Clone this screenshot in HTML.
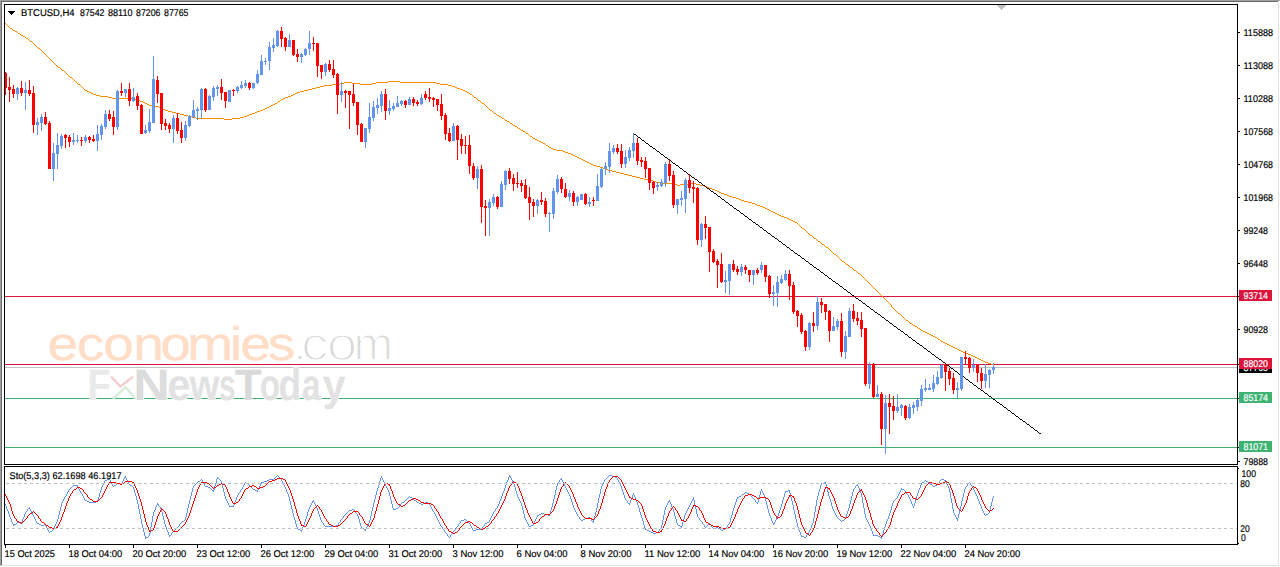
<!DOCTYPE html>
<html lang="en"><head><meta charset="utf-8"><title>BTCUSD H4</title>
<style>html,body{margin:0;padding:0;background:#fff;}body{width:1280px;height:567px;overflow:hidden;position:relative;font-family:"Liberation Sans",sans-serif;}svg,svg text{font-family:"Liberation Sans",sans-serif;}</style></head>
<body>
<svg width="1280" height="567" viewBox="0 0 1280 567" style="position:absolute;left:0;top:0" text-rendering="geometricPrecision">
<rect x="0" y="0" width="1280" height="567" fill="#fff"/>
<g shape-rendering="crispEdges">
<rect x="0" y="0" width="1280" height="1" fill="#a0a0a0"/><rect x="0" y="0" width="1" height="566" fill="#a0a0a0"/>
<rect x="1" y="1" width="1278" height="1" fill="#696969"/><rect x="1" y="1" width="1" height="564" fill="#696969"/>
<rect x="1278" y="1" width="1" height="565" fill="#e3e3e3"/><rect x="1" y="565" width="1278" height="1" fill="#e3e3e3"/>
<rect x="5" y="296" width="1232" height="1" fill="#DC143C"/>
<rect x="5" y="364" width="1232" height="1" fill="#DC143C"/>
<rect x="5" y="367" width="1232" height="1" fill="#C0C0C0"/>
<rect x="5" y="398" width="1232" height="1" fill="#3CB371"/>
<rect x="5" y="447" width="1232" height="1" fill="#3CB371"/>
</g>
<path d="M96 95.5h4M291 95.5h2M192 117.5h4M240 117.5h4M760 206.5h3M108 97.5h4M285 97.5h3M474 97.5h2M660 183.5h15M688 183.5h8M773 212.5h2M196 118.5h28M232 118.5h8M502 118.5h2M935 337.5h2M176 113.5h4M252 113.5h3M494 113.5h2M89 92.5h2M297 92.5h3M467 92.5h2M320 86.5h4M452 86.5h3M596 166.5h4M87 91.5h2M300 91.5h4M465 91.5h2M78 84.5h2M332 84.5h8M360 84.5h12M440 84.5h8M787 218.5h2M388 81.5h12M600 167.5h3M858 273.5h2M112 98.5h20M283 98.5h2M521 130.5h2M765 208.5h2M344 82.5h8M376 82.5h12M400 82.5h36M729 196.5h3M85 90.5h2M304 90.5h4M463 90.5h2M145 103.5h2M275 103.5h2M482 103.5h2M163 109.5h2M263 109.5h2M644 179.5h7M149 105.5h3M271 105.5h2M628 175.5h4M523 131.5h2M168 111.5h4M257 111.5h3M147 104.5h2M273 104.5h2M791 220.5h2M70 77.5h2M324 85.5h8M448 85.5h4M340 83.5h4M352 83.5h8M372 83.5h4M436 83.5h4M100 96.5h8M288 96.5h3M184 115.5h4M247 115.5h2M497 115.5h2M152 106.5h7M269 106.5h2M632 176.5h4M143 102.5h2M165 110.5h3M260 110.5h3M490 110.5h2M818 241.5h2M224 119.5h8M605 169.5h3M132 99.5h4M281 99.5h2M553 149.5h3M842 261.5h2M624 174.5h4M136 100.5h4M478 100.5h2M854 270.5h2M913 325.5h2M58 67.5h2M556 150.5h7M140 101.5h3M278 101.5h2M172 112.5h4M255 112.5h2M736 198.5h3M549 147.5h2M802 228.5h2M93 94.5h3M293 94.5h2M470 94.5h2M675 184.5h2M680 184.5h8M696 184.5h4M161 108.5h2M265 108.5h2M608 170.5h4M515 126.5h2M651 180.5h2M741 200.5h3M546 145.5h2M308 89.5h4M460 89.5h3M898 313.5h2M961 351.5h2M38 48.5h2M732 197.5h4M612 171.5h4M953 347.5h2M316 87.5h4M455 87.5h2M965 353.5h3M636 177.5h4M985 362.5h3M180 114.5h4M249 114.5h3M677 185.5h3M700 185.5h4M21 35.5h2M988 363.5h3M979 359.5h2M704 186.5h3M957 349.5h2M541 142.5h2M949 345.5h2M850 267.5h2M941 341.5h2M23 36.5h2M991 364.5h2M656 182.5h4M748 202.5h4M943 342.5h2M983 361.5h2M975 357.5h2M620 173.5h4M537 140.5h2M945 343.5h2M530 136.5h2M977 358.5h2M938 339.5h2M968 354.5h3M715 190.5h2M593 165.5h3M971 355.5h2M653 181.5h3M188 116.5h4M244 116.5h3M499 116.5h2M533 138.5h2M616 172.5h4M709 188.5h3M826 247.5h2M589 163.5h2M507 121.5h2M581 159.5h2M312 88.5h4M457 88.5h3M91 93.5h2M295 93.5h2M583 160.5h2M15 31.5h2M575 156.5h2M159 107.5h2M267 107.5h2M721 193.5h3M752 203.5h3M781 216.5h3M834 254.5h2M585 161.5h2M577 157.5h2M30 41.5h2M568 153.5h3M640 178.5h4M775 213.5h2M724 194.5h3M767 209.5h2M929 334.5h2M579 158.5h2M571 154.5h2M717 191.5h2M931 335.5h2M923 331.5h2M13 30.5h2M777 214.5h2M563 151.5h2M769 210.5h2M793 221.5h2M573 155.5h2M526 133.5h2M771 211.5h2M763 207.5h2M925 332.5h2M933 336.5h2M918 328.5h2M565 152.5h3M795 222.5h2M62 70.5h2M712 189.5h3M755 204.5h2M927 333.5h2M789 219.5h2M757 205.5h3M921 330.5h2M822 244.5h2M784 217.5h3M551 148.5h2M603 168.5h2M26 38.5h2M518 128.5h2M744 201.5h4M513 125.5h2M739 199.5h2M963 352.5h2M814 238.5h2M915 326.5h2M959 350.5h2M910 323.5h2M18 33.5h2M955 348.5h2M539 141.5h2M947 344.5h2M981 360.5h2M973 356.5h2M719 192.5h2M543 143.5h2M951 346.5h2M535 139.5h2M510 123.5h2M810 235.5h2M707 187.5h2M587 162.5h2M505 120.5h2M906 320.5h2M779 215.5h2M591 164.5h2M846 264.5h2M10 28.5h2M727 195.5h2M832.5 252v1M493.5 112v1M901.5 315v1M878.5 292v1M532.5 137v1M912.5 324v1M873.5 287v1M57.5 66v1M808.5 233v1M75.5 81v1M68.5 75v1M520.5 129v1M869.5 283v1M879.5 293v1M36.5 46v1M53.5 62v1M64.5 71v1M875.5 289v1M476.5 98v1M902.5 316v1M487.5 107v1M895.5 310v1M77.5 83v1M65.5 72v1M816.5 239v1M509.5 122v1M891.5 305v2M809.5 234v1M845.5 263v1M830.5 250v1M484.5 104v1M876.5 290v1M886.5 300v1M280.5 100v1M12.5 29v1M5.5 23v1M806.5 231v1M799.5 225v1M66.5 73v1M545.5 144v1M817.5 240v1M882.5 296v1M877.5 291v1M917.5 327v1M853.5 269v1M897.5 312v1M856.5 271v1M525.5 132v1M824.5 245v1M485.5 105v1M893.5 308v1M486.5 106v1M825.5 246v1M800.5 226v1M883.5 297v1M836.5 255v1M940.5 340v1M28.5 39v1M473.5 96v1M801.5 227v1M884.5 298v1M29.5 40v1M69.5 76v1M797.5 223v1M880.5 294v1M80.5 85v1M40.5 49v1M17.5 32v1M488.5 108v1M81.5 86v1M481.5 102v1M896.5 311v1M885.5 299v1M489.5 109v1M798.5 224v1M881.5 295v1M908.5 321v1M852.5 268v1M993.5 365v1M496.5 114v1M887.5 301v1M47.5 56v1M82.5 87v1M6.5 24v1M67.5 74v1M43.5 52v1M60.5 68v1M472.5 95v1M860.5 274v1M909.5 322v1M937.5 338v1M861.5 275v1M894.5 309v1M888.5 302v1M841.5 260v1M7.5 25v1M277.5 102v1M844.5 262v1M512.5 124v1M61.5 69v1M44.5 53v1M812.5 236v1M837.5 256v1M889.5 303v1M866.5 280v1M8.5 26v1M45.5 54v1M862.5 276v1M813.5 237v1M480.5 101v1M867.5 281v1M41.5 50v1M501.5 117v1M51.5 60v1M548.5 146v1M820.5 242v1M863.5 277v1M920.5 329v1M838.5 257v1M890.5 304v1M900.5 314v1M9.5 27v1M528.5 134v1M839.5 258v1M56.5 65v1M807.5 232v1M42.5 51v1M35.5 45v1M529.5 135v1M52.5 61v1M469.5 93v1M821.5 243v1M864.5 278v1M857.5 272v1M874.5 288v1M48.5 57v1M517.5 127v1M83.5 88v1M76.5 82v1M804.5 229v1M828.5 248v1M870.5 284v1M865.5 279v1M840.5 259v1M833.5 253v1M32.5 42v1M72.5 78v1M84.5 89v1M25.5 37v1M477.5 99v1M829.5 249v1M903.5 317v1M20.5 34v1M49.5 58v1M37.5 47v1M54.5 63v1M871.5 285v1M805.5 230v1M848.5 265v1M55.5 64v1M849.5 266v1M50.5 59v1M33.5 43v1M73.5 79v1M504.5 119v1M872.5 286v1M904.5 318v1M46.5 55v1M892.5 307v1M34.5 44v1M74.5 80v1M868.5 282v1M492.5 111v1M831.5 251v1M905.5 319v1" fill="none" stroke="#FF8C00" stroke-width="1" shape-rendering="crispEdges"/>
<path d="M806 261.5h2M798 255.5h2M913 340.5h2M939 359.5h2M787 247.5h2M894 326.5h2M920 345.5h2M871 309.5h2M909 337.5h2M634 134.5h2M936 357.5h2M730 205.5h2M653 148.5h2M905 334.5h2M943 362.5h2M917 343.5h2M711 191.5h2M737 210.5h2M886 320.5h2M924 348.5h2M718 196.5h2M1039 433.5h2M638 137.5h2M951 368.5h2M1020 419.5h2M745 216.5h2M783 244.5h2M760 227.5h2M722 199.5h2M932 354.5h2M734 208.5h2M1035 430.5h2M1016 416.5h2M741 213.5h2M1023 421.5h2M768 233.5h2M875 312.5h2M901 331.5h2M775 238.5h2M749 219.5h2M890 323.5h2M856 298.5h2M882 317.5h2M833 281.5h2M898 329.5h2M692 177.5h2M1031 427.5h2M867 306.5h2M673 163.5h2M1012 413.5h2M848 292.5h2M989 396.5h2M1027 424.5h2M726 202.5h2M1008 410.5h2M707 188.5h2M684 171.5h2M997 402.5h2M714 193.5h2M1004 407.5h2M703 185.5h2M978 388.5h2M756 224.5h2M863 303.5h2M699 182.5h2M852 295.5h2M844 289.5h2M859 300.5h2M878 314.5h2M993 399.5h2M829 278.5h2M1000 404.5h2M974 385.5h2M836 283.5h2M810 264.5h2M688 174.5h2M669 160.5h2M695 179.5h2M985 393.5h2M959 374.5h2M966 379.5h2M680 168.5h2M825 275.5h2M661 154.5h2M814 267.5h2M840 286.5h2M795 253.5h2M981 390.5h2M955 371.5h2M817 269.5h2M791 250.5h2M962 376.5h2M650 146.5h2M676 165.5h2M657 151.5h2M970 382.5h2M947 365.5h2M646 143.5h2M928 351.5h2M665 157.5h2M642 140.5h2M802 258.5h2M821 272.5h2M772 236.5h2M779 241.5h2M753 222.5h2M764 230.5h2M710.5 190v1M888.5 321v1M941.5 360v1M839.5 285v1M813.5 266v1M865.5 304v1M1030.5 426v1M819.5 270v1M793.5 251v1M655.5 149v1M846.5 290v1M820.5 271v1M961.5 375v1M935.5 356v1M800.5 256v1M774.5 237v1M698.5 181v1M672.5 162v1M636.5 135v1M751.5 220v1M725.5 201v1M777.5 239v1M1038.5 432v1M679.5 167v1M705.5 186v1M880.5 315v1M656.5 150v1M752.5 221v1M969.5 381v1M686.5 172v1M999.5 403v1M1025.5 422v1M861.5 301v1M733.5 207v1M785.5 245v1M759.5 226v1M976.5 386v1M950.5 367v1M1002.5 405v1M930.5 352v1M904.5 333v1M766.5 231v1M740.5 212v1M664.5 156v1M983.5 391v1M957.5 372v1M977.5 387v1M881.5 316v1M855.5 297v1M694.5 178v1M720.5 197v1M809.5 263v1M645.5 142v1M697.5 180v1M671.5 161v1M958.5 373v1M1010.5 411v1M984.5 392v1M862.5 302v1M678.5 166v1M991.5 397v1M767.5 232v1M915.5 341v1M889.5 322v1M945.5 363v1M1034.5 429v1M896.5 327v1M870.5 308v1M794.5 252v1M922.5 346v1M1011.5 412v1M824.5 274v1M850.5 293v1M903.5 332v1M827.5 276v1M801.5 257v1M992.5 398v1M640.5 138v1M1018.5 417v1M729.5 204v1M781.5 242v1M755.5 223v1M808.5 262v1M782.5 243v1M706.5 187v1M923.5 347v1M897.5 328v1M1019.5 418v1M762.5 228v1M736.5 209v1M660.5 153v1M835.5 282v1M713.5 192v1M687.5 173v1M1026.5 423v1M739.5 211v1M667.5 158v1M641.5 139v1M1006.5 408v1M790.5 249v1M842.5 287v1M816.5 268v1M1033.5 428v1M931.5 353v1M648.5 144v1M987.5 394v1M911.5 338v1M885.5 319v1M747.5 217v1M721.5 198v1M938.5 358v1M912.5 339v1M964.5 377v1M701.5 183v1M892.5 324v1M866.5 305v1M728.5 203v1M652.5 147v1M965.5 378v1M843.5 288v1M869.5 307v1M682.5 169v1M659.5 152v1M633.5 133v1M972.5 383v1M946.5 364v1M748.5 218v1M953.5 369v1M877.5 313v1M851.5 294v1M907.5 335v1M908.5 336v1M858.5 299v1M832.5 280v1M884.5 318v1M973.5 384v1M812.5 265v1M838.5 284v1M786.5 246v1M789.5 248v1M763.5 229v1M954.5 370v1M980.5 389v1M691.5 176v1M743.5 214v1M717.5 195v1M770.5 234v1M744.5 215v1M668.5 159v1M1007.5 409v1M724.5 200v1M1037.5 431v1M771.5 235v1M823.5 273v1M797.5 254v1M675.5 164v1M649.5 145v1M988.5 395v1M1014.5 414v1M916.5 342v1M968.5 380v1M942.5 361v1M804.5 259v1M778.5 240v1M702.5 184v1M995.5 400v1M919.5 344v1M893.5 325v1M1015.5 415v1M758.5 225v1M732.5 206v1M949.5 366v1M873.5 310v1M847.5 291v1M709.5 189v1M683.5 170v1M900.5 330v1M926.5 349v1M874.5 311v1M1022.5 420v1M996.5 401v1M637.5 136v1M663.5 155v1M854.5 296v1M828.5 277v1M690.5 175v1M716.5 194v1M1003.5 406v1M1029.5 425v1M927.5 350v1M805.5 260v1M831.5 279v1M644.5 141v1M934.5 355v1" fill="none" stroke="#000" stroke-width="1" shape-rendering="crispEdges"/>
<g shape-rendering="crispEdges">
<rect x="5" y="72" width="1" height="23" fill="#FF0000"/><rect x="4" y="73" width="3" height="15" fill="#FF0000"/>
<rect x="9" y="77" width="1" height="25" fill="#FF0000"/><rect x="8" y="87" width="3" height="3" fill="#FF0000"/>
<rect x="13" y="85" width="1" height="13" fill="#FF0000"/><rect x="12" y="89" width="3" height="5" fill="#FF0000"/>
<rect x="17" y="87" width="1" height="13" fill="#6495ED"/><rect x="16" y="88" width="3" height="6" fill="#6495ED"/>
<rect x="21" y="81" width="1" height="15" fill="#FF0000"/><rect x="20" y="88" width="3" height="5" fill="#FF0000"/>
<rect x="25" y="82" width="1" height="28" fill="#6495ED"/><rect x="24" y="90" width="3" height="3" fill="#6495ED"/>
<rect x="29" y="80" width="1" height="16" fill="#FF0000"/><rect x="28" y="90" width="3" height="4" fill="#FF0000"/>
<rect x="33" y="86" width="1" height="47" fill="#FF0000"/><rect x="32" y="93" width="3" height="32" fill="#FF0000"/>
<rect x="37" y="118" width="1" height="17" fill="#6495ED"/><rect x="36" y="122" width="3" height="3" fill="#6495ED"/>
<rect x="41" y="114" width="1" height="17" fill="#6495ED"/><rect x="40" y="117" width="3" height="6" fill="#6495ED"/>
<rect x="45" y="112" width="1" height="13" fill="#FF0000"/><rect x="44" y="117" width="3" height="7" fill="#FF0000"/>
<rect x="49" y="121" width="1" height="48" fill="#FF0000"/><rect x="48" y="123" width="3" height="46" fill="#FF0000"/>
<rect x="53" y="143" width="1" height="38" fill="#6495ED"/><rect x="52" y="153" width="3" height="16" fill="#6495ED"/>
<rect x="57" y="133" width="1" height="36" fill="#6495ED"/><rect x="56" y="145" width="3" height="9" fill="#6495ED"/>
<rect x="61" y="134" width="1" height="15" fill="#6495ED"/><rect x="60" y="136" width="3" height="10" fill="#6495ED"/>
<rect x="65" y="134" width="1" height="14" fill="#FF0000"/><rect x="64" y="135" width="3" height="3" fill="#FF0000"/>
<rect x="69" y="135" width="1" height="12" fill="#FF0000"/><rect x="68" y="137" width="3" height="5" fill="#FF0000"/>
<rect x="73" y="133" width="1" height="12" fill="#6495ED"/><rect x="72" y="140" width="3" height="2" fill="#6495ED"/>
<rect x="77" y="135" width="1" height="8" fill="#6495ED"/><rect x="76" y="140" width="3" height="1" fill="#6495ED"/>
<rect x="81" y="137" width="1" height="9" fill="#FF0000"/><rect x="80" y="140" width="3" height="1" fill="#FF0000"/>
<rect x="85" y="135" width="1" height="8" fill="#6495ED"/><rect x="84" y="137" width="3" height="4" fill="#6495ED"/>
<rect x="89" y="136" width="1" height="7" fill="#FF0000"/><rect x="88" y="137" width="3" height="3" fill="#FF0000"/>
<rect x="93" y="135" width="1" height="7" fill="#FF0000"/><rect x="92" y="139" width="3" height="2" fill="#FF0000"/>
<rect x="97" y="125" width="1" height="26" fill="#6495ED"/><rect x="96" y="134" width="3" height="7" fill="#6495ED"/>
<rect x="101" y="124" width="1" height="16" fill="#6495ED"/><rect x="100" y="126" width="3" height="9" fill="#6495ED"/>
<rect x="105" y="110" width="1" height="19" fill="#6495ED"/><rect x="104" y="114" width="3" height="13" fill="#6495ED"/>
<rect x="109" y="110" width="1" height="11" fill="#FF0000"/><rect x="108" y="114" width="3" height="5" fill="#FF0000"/>
<rect x="113" y="111" width="1" height="24" fill="#FF0000"/><rect x="112" y="117" width="3" height="10" fill="#FF0000"/>
<rect x="117" y="90" width="1" height="40" fill="#6495ED"/><rect x="116" y="91" width="3" height="36" fill="#6495ED"/>
<rect x="121" y="83" width="1" height="13" fill="#FF0000"/><rect x="120" y="91" width="3" height="2" fill="#FF0000"/>
<rect x="125" y="89" width="1" height="8" fill="#6495ED"/><rect x="124" y="89" width="3" height="4" fill="#6495ED"/>
<rect x="129" y="83" width="1" height="23" fill="#FF0000"/><rect x="128" y="89" width="3" height="12" fill="#FF0000"/>
<rect x="133" y="88" width="1" height="14" fill="#6495ED"/><rect x="132" y="97" width="3" height="4" fill="#6495ED"/>
<rect x="137" y="93" width="1" height="17" fill="#FF0000"/><rect x="136" y="96" width="3" height="10" fill="#FF0000"/>
<rect x="141" y="104" width="1" height="30" fill="#FF0000"/><rect x="140" y="105" width="3" height="29" fill="#FF0000"/>
<rect x="145" y="125" width="1" height="9" fill="#6495ED"/><rect x="144" y="130" width="3" height="3" fill="#6495ED"/>
<rect x="149" y="109" width="1" height="24" fill="#6495ED"/><rect x="148" y="122" width="3" height="9" fill="#6495ED"/>
<rect x="153" y="56" width="1" height="67" fill="#6495ED"/><rect x="152" y="79" width="3" height="44" fill="#6495ED"/>
<rect x="157" y="76" width="1" height="27" fill="#FF0000"/><rect x="156" y="80" width="3" height="14" fill="#FF0000"/>
<rect x="161" y="93" width="1" height="37" fill="#FF0000"/><rect x="160" y="93" width="3" height="31" fill="#FF0000"/>
<rect x="165" y="119" width="1" height="11" fill="#FF0000"/><rect x="164" y="123" width="3" height="3" fill="#FF0000"/>
<rect x="169" y="123" width="1" height="10" fill="#FF0000"/><rect x="168" y="125" width="3" height="4" fill="#FF0000"/>
<rect x="173" y="115" width="1" height="28" fill="#6495ED"/><rect x="172" y="118" width="3" height="11" fill="#6495ED"/>
<rect x="177" y="113" width="1" height="21" fill="#FF0000"/><rect x="176" y="118" width="3" height="13" fill="#FF0000"/>
<rect x="181" y="122" width="1" height="21" fill="#FF0000"/><rect x="180" y="130" width="3" height="8" fill="#FF0000"/>
<rect x="185" y="121" width="1" height="20" fill="#6495ED"/><rect x="184" y="125" width="3" height="13" fill="#6495ED"/>
<rect x="189" y="115" width="1" height="12" fill="#6495ED"/><rect x="188" y="116" width="3" height="10" fill="#6495ED"/>
<rect x="193" y="100" width="1" height="18" fill="#6495ED"/><rect x="192" y="110" width="3" height="7" fill="#6495ED"/>
<rect x="197" y="107" width="1" height="13" fill="#6495ED"/><rect x="196" y="109" width="3" height="2" fill="#6495ED"/>
<rect x="201" y="88" width="1" height="31" fill="#6495ED"/><rect x="200" y="89" width="3" height="21" fill="#6495ED"/>
<rect x="205" y="88" width="1" height="24" fill="#FF0000"/><rect x="204" y="89" width="3" height="21" fill="#FF0000"/>
<rect x="209" y="95" width="1" height="15" fill="#6495ED"/><rect x="208" y="96" width="3" height="14" fill="#6495ED"/>
<rect x="213" y="86" width="1" height="15" fill="#6495ED"/><rect x="212" y="88" width="3" height="9" fill="#6495ED"/>
<rect x="217" y="85" width="1" height="11" fill="#6495ED"/><rect x="216" y="87" width="3" height="2" fill="#6495ED"/>
<rect x="221" y="79" width="1" height="21" fill="#FF0000"/><rect x="220" y="87" width="3" height="6" fill="#FF0000"/>
<rect x="225" y="92" width="1" height="16" fill="#FF0000"/><rect x="224" y="92" width="3" height="9" fill="#FF0000"/>
<rect x="229" y="90" width="1" height="12" fill="#6495ED"/><rect x="228" y="90" width="3" height="12" fill="#6495ED"/>
<rect x="233" y="89" width="1" height="7" fill="#FF0000"/><rect x="232" y="90" width="3" height="1" fill="#FF0000"/>
<rect x="237" y="86" width="1" height="7" fill="#6495ED"/><rect x="236" y="87" width="3" height="4" fill="#6495ED"/>
<rect x="241" y="81" width="1" height="8" fill="#6495ED"/><rect x="240" y="85" width="3" height="3" fill="#6495ED"/>
<rect x="245" y="80" width="1" height="8" fill="#6495ED"/><rect x="244" y="83" width="3" height="3" fill="#6495ED"/>
<rect x="249" y="82" width="1" height="8" fill="#FF0000"/><rect x="248" y="83" width="3" height="5" fill="#FF0000"/>
<rect x="253" y="83" width="1" height="6" fill="#6495ED"/><rect x="252" y="83" width="3" height="5" fill="#6495ED"/>
<rect x="257" y="70" width="1" height="14" fill="#6495ED"/><rect x="256" y="74" width="3" height="9" fill="#6495ED"/>
<rect x="261" y="55" width="1" height="20" fill="#6495ED"/><rect x="260" y="61" width="3" height="14" fill="#6495ED"/>
<rect x="265" y="58" width="1" height="7" fill="#6495ED"/><rect x="264" y="61" width="3" height="1" fill="#6495ED"/>
<rect x="269" y="42" width="1" height="28" fill="#6495ED"/><rect x="268" y="47" width="3" height="14" fill="#6495ED"/>
<rect x="273" y="38" width="1" height="14" fill="#6495ED"/><rect x="272" y="45" width="3" height="3" fill="#6495ED"/>
<rect x="277" y="30" width="1" height="17" fill="#6495ED"/><rect x="276" y="31" width="3" height="15" fill="#6495ED"/>
<rect x="281" y="27" width="1" height="20" fill="#FF0000"/><rect x="280" y="31" width="3" height="8" fill="#FF0000"/>
<rect x="285" y="37" width="1" height="14" fill="#FF0000"/><rect x="284" y="38" width="3" height="9" fill="#FF0000"/>
<rect x="289" y="34" width="1" height="13" fill="#6495ED"/><rect x="288" y="40" width="3" height="7" fill="#6495ED"/>
<rect x="293" y="40" width="1" height="16" fill="#FF0000"/><rect x="292" y="40" width="3" height="15" fill="#FF0000"/>
<rect x="297" y="49" width="1" height="13" fill="#FF0000"/><rect x="296" y="54" width="3" height="3" fill="#FF0000"/>
<rect x="301" y="53" width="1" height="10" fill="#6495ED"/><rect x="300" y="54" width="3" height="3" fill="#6495ED"/>
<rect x="305" y="48" width="1" height="8" fill="#6495ED"/><rect x="304" y="49" width="3" height="6" fill="#6495ED"/>
<rect x="309" y="31" width="1" height="24" fill="#6495ED"/><rect x="308" y="43" width="3" height="6" fill="#6495ED"/>
<rect x="313" y="37" width="1" height="14" fill="#FF0000"/><rect x="312" y="43" width="3" height="1" fill="#FF0000"/>
<rect x="317" y="43" width="1" height="34" fill="#FF0000"/><rect x="316" y="43" width="3" height="23" fill="#FF0000"/>
<rect x="321" y="65" width="1" height="14" fill="#FF0000"/><rect x="320" y="65" width="3" height="7" fill="#FF0000"/>
<rect x="325" y="63" width="1" height="13" fill="#6495ED"/><rect x="324" y="64" width="3" height="8" fill="#6495ED"/>
<rect x="329" y="60" width="1" height="12" fill="#FF0000"/><rect x="328" y="64" width="3" height="6" fill="#FF0000"/>
<rect x="333" y="60" width="1" height="18" fill="#FF0000"/><rect x="332" y="69" width="3" height="6" fill="#FF0000"/>
<rect x="337" y="73" width="1" height="41" fill="#FF0000"/><rect x="336" y="74" width="3" height="21" fill="#FF0000"/>
<rect x="341" y="82" width="1" height="20" fill="#6495ED"/><rect x="340" y="91" width="3" height="4" fill="#6495ED"/>
<rect x="345" y="90" width="1" height="18" fill="#FF0000"/><rect x="344" y="91" width="3" height="2" fill="#FF0000"/>
<rect x="349" y="91" width="1" height="38" fill="#FF0000"/><rect x="348" y="91" width="3" height="4" fill="#FF0000"/>
<rect x="353" y="84" width="1" height="22" fill="#FF0000"/><rect x="352" y="94" width="3" height="9" fill="#FF0000"/>
<rect x="357" y="102" width="1" height="33" fill="#FF0000"/><rect x="356" y="102" width="3" height="23" fill="#FF0000"/>
<rect x="361" y="123" width="1" height="19" fill="#FF0000"/><rect x="360" y="124" width="3" height="18" fill="#FF0000"/>
<rect x="365" y="128" width="1" height="20" fill="#6495ED"/><rect x="364" y="128" width="3" height="14" fill="#6495ED"/>
<rect x="369" y="103" width="1" height="30" fill="#6495ED"/><rect x="368" y="117" width="3" height="12" fill="#6495ED"/>
<rect x="373" y="101" width="1" height="20" fill="#6495ED"/><rect x="372" y="107" width="3" height="11" fill="#6495ED"/>
<rect x="377" y="98" width="1" height="16" fill="#6495ED"/><rect x="376" y="105" width="3" height="3" fill="#6495ED"/>
<rect x="381" y="91" width="1" height="21" fill="#6495ED"/><rect x="380" y="94" width="3" height="12" fill="#6495ED"/>
<rect x="385" y="89" width="1" height="31" fill="#FF0000"/><rect x="384" y="94" width="3" height="17" fill="#FF0000"/>
<rect x="389" y="100" width="1" height="15" fill="#6495ED"/><rect x="388" y="108" width="3" height="3" fill="#6495ED"/>
<rect x="393" y="103" width="1" height="8" fill="#6495ED"/><rect x="392" y="106" width="3" height="3" fill="#6495ED"/>
<rect x="397" y="96" width="1" height="11" fill="#6495ED"/><rect x="396" y="103" width="3" height="4" fill="#6495ED"/>
<rect x="401" y="100" width="1" height="6" fill="#6495ED"/><rect x="400" y="101" width="3" height="3" fill="#6495ED"/>
<rect x="405" y="100" width="1" height="8" fill="#FF0000"/><rect x="404" y="101" width="3" height="4" fill="#FF0000"/>
<rect x="409" y="97" width="1" height="8" fill="#6495ED"/><rect x="408" y="99" width="3" height="6" fill="#6495ED"/>
<rect x="413" y="97" width="1" height="9" fill="#FF0000"/><rect x="412" y="99" width="3" height="4" fill="#FF0000"/>
<rect x="417" y="100" width="1" height="6" fill="#FF0000"/><rect x="416" y="102" width="3" height="2" fill="#FF0000"/>
<rect x="421" y="94" width="1" height="11" fill="#6495ED"/><rect x="420" y="98" width="3" height="6" fill="#6495ED"/>
<rect x="425" y="91" width="1" height="9" fill="#FF0000"/><rect x="424" y="94" width="3" height="4" fill="#FF0000"/>
<rect x="429" y="88" width="1" height="14" fill="#FF0000"/><rect x="428" y="97" width="3" height="2" fill="#FF0000"/>
<rect x="433" y="97" width="1" height="10" fill="#FF0000"/><rect x="432" y="98" width="3" height="2" fill="#FF0000"/>
<rect x="437" y="99" width="1" height="12" fill="#FF0000"/><rect x="436" y="99" width="3" height="6" fill="#FF0000"/>
<rect x="441" y="94" width="1" height="26" fill="#FF0000"/><rect x="440" y="104" width="3" height="12" fill="#FF0000"/>
<rect x="445" y="113" width="1" height="27" fill="#FF0000"/><rect x="444" y="115" width="3" height="19" fill="#FF0000"/>
<rect x="449" y="128" width="1" height="14" fill="#FF0000"/><rect x="448" y="133" width="3" height="8" fill="#FF0000"/>
<rect x="453" y="123" width="1" height="18" fill="#6495ED"/><rect x="452" y="126" width="3" height="15" fill="#6495ED"/>
<rect x="457" y="125" width="1" height="35" fill="#FF0000"/><rect x="456" y="126" width="3" height="14" fill="#FF0000"/>
<rect x="461" y="134" width="1" height="20" fill="#FF0000"/><rect x="460" y="139" width="3" height="7" fill="#FF0000"/>
<rect x="465" y="136" width="1" height="18" fill="#FF0000"/><rect x="464" y="145" width="3" height="1" fill="#FF0000"/>
<rect x="469" y="135" width="1" height="39" fill="#FF0000"/><rect x="468" y="145" width="3" height="21" fill="#FF0000"/>
<rect x="473" y="163" width="1" height="17" fill="#FF0000"/><rect x="472" y="166" width="3" height="12" fill="#FF0000"/>
<rect x="477" y="166" width="1" height="23" fill="#6495ED"/><rect x="476" y="169" width="3" height="9" fill="#6495ED"/>
<rect x="481" y="165" width="1" height="58" fill="#FF0000"/><rect x="480" y="169" width="3" height="38" fill="#FF0000"/>
<rect x="485" y="200" width="1" height="36" fill="#FF0000"/><rect x="484" y="206" width="3" height="2" fill="#FF0000"/>
<rect x="489" y="199" width="1" height="37" fill="#6495ED"/><rect x="488" y="202" width="3" height="6" fill="#6495ED"/>
<rect x="493" y="194" width="1" height="12" fill="#6495ED"/><rect x="492" y="197" width="3" height="6" fill="#6495ED"/>
<rect x="497" y="196" width="1" height="13" fill="#FF0000"/><rect x="496" y="197" width="3" height="10" fill="#FF0000"/>
<rect x="501" y="181" width="1" height="26" fill="#6495ED"/><rect x="500" y="184" width="3" height="23" fill="#6495ED"/>
<rect x="505" y="170" width="1" height="20" fill="#6495ED"/><rect x="504" y="171" width="3" height="14" fill="#6495ED"/>
<rect x="509" y="168" width="1" height="16" fill="#FF0000"/><rect x="508" y="171" width="3" height="8" fill="#FF0000"/>
<rect x="513" y="174" width="1" height="17" fill="#FF0000"/><rect x="512" y="178" width="3" height="6" fill="#FF0000"/>
<rect x="517" y="172" width="1" height="16" fill="#FF0000"/><rect x="516" y="183" width="3" height="1" fill="#FF0000"/>
<rect x="521" y="180" width="1" height="12" fill="#FF0000"/><rect x="520" y="183" width="3" height="3" fill="#FF0000"/>
<rect x="525" y="179" width="1" height="20" fill="#FF0000"/><rect x="524" y="185" width="3" height="13" fill="#FF0000"/>
<rect x="529" y="187" width="1" height="33" fill="#FF0000"/><rect x="528" y="197" width="3" height="6" fill="#FF0000"/>
<rect x="533" y="199" width="1" height="18" fill="#FF0000"/><rect x="532" y="202" width="3" height="4" fill="#FF0000"/>
<rect x="537" y="199" width="1" height="15" fill="#6495ED"/><rect x="536" y="200" width="3" height="6" fill="#6495ED"/>
<rect x="541" y="192" width="1" height="13" fill="#FF0000"/><rect x="540" y="200" width="3" height="2" fill="#FF0000"/>
<rect x="545" y="198" width="1" height="19" fill="#FF0000"/><rect x="544" y="201" width="3" height="13" fill="#FF0000"/>
<rect x="549" y="212" width="1" height="20" fill="#6495ED"/><rect x="548" y="213" width="3" height="1" fill="#6495ED"/>
<rect x="553" y="188" width="1" height="31" fill="#6495ED"/><rect x="552" y="191" width="3" height="23" fill="#6495ED"/>
<rect x="557" y="175" width="1" height="19" fill="#6495ED"/><rect x="556" y="179" width="3" height="13" fill="#6495ED"/>
<rect x="561" y="177" width="1" height="16" fill="#FF0000"/><rect x="560" y="179" width="3" height="10" fill="#FF0000"/>
<rect x="565" y="183" width="1" height="15" fill="#FF0000"/><rect x="564" y="189" width="3" height="8" fill="#FF0000"/>
<rect x="569" y="190" width="1" height="11" fill="#6495ED"/><rect x="568" y="193" width="3" height="4" fill="#6495ED"/>
<rect x="573" y="191" width="1" height="15" fill="#FF0000"/><rect x="572" y="193" width="3" height="9" fill="#FF0000"/>
<rect x="577" y="196" width="1" height="10" fill="#6495ED"/><rect x="576" y="197" width="3" height="5" fill="#6495ED"/>
<rect x="581" y="194" width="1" height="6" fill="#6495ED"/><rect x="580" y="194" width="3" height="6" fill="#6495ED"/>
<rect x="585" y="193" width="1" height="12" fill="#FF0000"/><rect x="584" y="194" width="3" height="10" fill="#FF0000"/>
<rect x="589" y="197" width="1" height="10" fill="#6495ED"/><rect x="588" y="202" width="3" height="2" fill="#6495ED"/>
<rect x="593" y="197" width="1" height="9" fill="#FF0000"/><rect x="592" y="200" width="3" height="1" fill="#FF0000"/>
<rect x="597" y="174" width="1" height="27" fill="#6495ED"/><rect x="596" y="186" width="3" height="15" fill="#6495ED"/>
<rect x="601" y="168" width="1" height="20" fill="#6495ED"/><rect x="600" y="169" width="3" height="18" fill="#6495ED"/>
<rect x="605" y="162" width="1" height="13" fill="#6495ED"/><rect x="604" y="166" width="3" height="3" fill="#6495ED"/>
<rect x="609" y="143" width="1" height="30" fill="#6495ED"/><rect x="608" y="151" width="3" height="16" fill="#6495ED"/>
<rect x="613" y="145" width="1" height="9" fill="#6495ED"/><rect x="612" y="148" width="3" height="4" fill="#6495ED"/>
<rect x="617" y="144" width="1" height="10" fill="#FF0000"/><rect x="616" y="148" width="3" height="4" fill="#FF0000"/>
<rect x="621" y="144" width="1" height="24" fill="#FF0000"/><rect x="620" y="151" width="3" height="13" fill="#FF0000"/>
<rect x="625" y="150" width="1" height="18" fill="#6495ED"/><rect x="624" y="157" width="3" height="7" fill="#6495ED"/>
<rect x="629" y="147" width="1" height="14" fill="#6495ED"/><rect x="628" y="150" width="3" height="8" fill="#6495ED"/>
<rect x="633" y="133" width="1" height="25" fill="#6495ED"/><rect x="632" y="143" width="3" height="8" fill="#6495ED"/>
<rect x="637" y="138" width="1" height="27" fill="#FF0000"/><rect x="636" y="143" width="3" height="18" fill="#FF0000"/>
<rect x="641" y="157" width="1" height="10" fill="#FF0000"/><rect x="640" y="160" width="3" height="2" fill="#FF0000"/>
<rect x="645" y="157" width="1" height="21" fill="#FF0000"/><rect x="644" y="161" width="3" height="8" fill="#FF0000"/>
<rect x="649" y="168" width="1" height="22" fill="#FF0000"/><rect x="648" y="168" width="3" height="15" fill="#FF0000"/>
<rect x="653" y="181" width="1" height="13" fill="#FF0000"/><rect x="652" y="182" width="3" height="6" fill="#FF0000"/>
<rect x="657" y="182" width="1" height="9" fill="#6495ED"/><rect x="656" y="185" width="3" height="2" fill="#6495ED"/>
<rect x="661" y="179" width="1" height="8" fill="#6495ED"/><rect x="660" y="182" width="3" height="4" fill="#6495ED"/>
<rect x="665" y="162" width="1" height="25" fill="#6495ED"/><rect x="664" y="164" width="3" height="19" fill="#6495ED"/>
<rect x="669" y="159" width="1" height="22" fill="#FF0000"/><rect x="668" y="164" width="3" height="12" fill="#FF0000"/>
<rect x="673" y="171" width="1" height="37" fill="#FF0000"/><rect x="672" y="175" width="3" height="30" fill="#FF0000"/>
<rect x="677" y="199" width="1" height="15" fill="#6495ED"/><rect x="676" y="199" width="3" height="6" fill="#6495ED"/>
<rect x="681" y="191" width="1" height="15" fill="#6495ED"/><rect x="680" y="198" width="3" height="2" fill="#6495ED"/>
<rect x="685" y="178" width="1" height="35" fill="#6495ED"/><rect x="684" y="180" width="3" height="19" fill="#6495ED"/>
<rect x="689" y="174" width="1" height="19" fill="#FF0000"/><rect x="688" y="180" width="3" height="8" fill="#FF0000"/>
<rect x="693" y="181" width="1" height="22" fill="#FF0000"/><rect x="692" y="187" width="3" height="2" fill="#FF0000"/>
<rect x="697" y="187" width="1" height="58" fill="#FF0000"/><rect x="696" y="188" width="3" height="52" fill="#FF0000"/>
<rect x="701" y="223" width="1" height="24" fill="#6495ED"/><rect x="700" y="224" width="3" height="16" fill="#6495ED"/>
<rect x="705" y="216" width="1" height="23" fill="#FF0000"/><rect x="704" y="224" width="3" height="4" fill="#FF0000"/>
<rect x="709" y="227" width="1" height="45" fill="#FF0000"/><rect x="708" y="227" width="3" height="25" fill="#FF0000"/>
<rect x="713" y="249" width="1" height="14" fill="#FF0000"/><rect x="712" y="251" width="3" height="11" fill="#FF0000"/>
<rect x="717" y="259" width="1" height="29" fill="#FF0000"/><rect x="716" y="261" width="3" height="4" fill="#FF0000"/>
<rect x="721" y="253" width="1" height="30" fill="#FF0000"/><rect x="720" y="264" width="3" height="18" fill="#FF0000"/>
<rect x="725" y="271" width="1" height="22" fill="#6495ED"/><rect x="724" y="280" width="3" height="2" fill="#6495ED"/>
<rect x="729" y="264" width="1" height="31" fill="#6495ED"/><rect x="728" y="264" width="3" height="17" fill="#6495ED"/>
<rect x="733" y="260" width="1" height="12" fill="#FF0000"/><rect x="732" y="264" width="3" height="6" fill="#FF0000"/>
<rect x="737" y="266" width="1" height="9" fill="#FF0000"/><rect x="736" y="269" width="3" height="3" fill="#FF0000"/>
<rect x="741" y="264" width="1" height="12" fill="#6495ED"/><rect x="740" y="267" width="3" height="5" fill="#6495ED"/>
<rect x="745" y="265" width="1" height="9" fill="#FF0000"/><rect x="744" y="267" width="3" height="3" fill="#FF0000"/>
<rect x="749" y="270" width="1" height="12" fill="#FF0000"/><rect x="748" y="270" width="3" height="5" fill="#FF0000"/>
<rect x="753" y="270" width="1" height="15" fill="#6495ED"/><rect x="752" y="270" width="3" height="5" fill="#6495ED"/>
<rect x="757" y="268" width="1" height="7" fill="#FF0000"/><rect x="756" y="270" width="3" height="3" fill="#FF0000"/>
<rect x="761" y="262" width="1" height="11" fill="#6495ED"/><rect x="760" y="265" width="3" height="5" fill="#6495ED"/>
<rect x="765" y="265" width="1" height="17" fill="#FF0000"/><rect x="764" y="265" width="3" height="12" fill="#FF0000"/>
<rect x="769" y="275" width="1" height="23" fill="#FF0000"/><rect x="768" y="276" width="3" height="18" fill="#FF0000"/>
<rect x="773" y="285" width="1" height="21" fill="#6495ED"/><rect x="772" y="292" width="3" height="2" fill="#6495ED"/>
<rect x="777" y="276" width="1" height="31" fill="#6495ED"/><rect x="776" y="282" width="3" height="11" fill="#6495ED"/>
<rect x="781" y="275" width="1" height="9" fill="#6495ED"/><rect x="780" y="279" width="3" height="4" fill="#6495ED"/>
<rect x="785" y="270" width="1" height="11" fill="#6495ED"/><rect x="784" y="274" width="3" height="6" fill="#6495ED"/>
<rect x="789" y="270" width="1" height="30" fill="#FF0000"/><rect x="788" y="274" width="3" height="12" fill="#FF0000"/>
<rect x="793" y="282" width="1" height="32" fill="#FF0000"/><rect x="792" y="285" width="3" height="27" fill="#FF0000"/>
<rect x="797" y="310" width="1" height="17" fill="#FF0000"/><rect x="796" y="311" width="3" height="5" fill="#FF0000"/>
<rect x="801" y="313" width="1" height="21" fill="#FF0000"/><rect x="800" y="315" width="3" height="17" fill="#FF0000"/>
<rect x="805" y="330" width="1" height="21" fill="#FF0000"/><rect x="804" y="331" width="3" height="16" fill="#FF0000"/>
<rect x="809" y="322" width="1" height="28" fill="#6495ED"/><rect x="808" y="323" width="3" height="24" fill="#6495ED"/>
<rect x="813" y="312" width="1" height="20" fill="#FF0000"/><rect x="812" y="323" width="3" height="3" fill="#FF0000"/>
<rect x="817" y="296" width="1" height="34" fill="#6495ED"/><rect x="816" y="302" width="3" height="24" fill="#6495ED"/>
<rect x="821" y="298" width="1" height="15" fill="#FF0000"/><rect x="820" y="302" width="3" height="3" fill="#FF0000"/>
<rect x="825" y="304" width="1" height="16" fill="#FF0000"/><rect x="824" y="304" width="3" height="8" fill="#FF0000"/>
<rect x="829" y="310" width="1" height="32" fill="#FF0000"/><rect x="828" y="311" width="3" height="20" fill="#FF0000"/>
<rect x="833" y="317" width="1" height="14" fill="#6495ED"/><rect x="832" y="326" width="3" height="5" fill="#6495ED"/>
<rect x="837" y="319" width="1" height="11" fill="#6495ED"/><rect x="836" y="321" width="3" height="6" fill="#6495ED"/>
<rect x="841" y="313" width="1" height="44" fill="#FF0000"/><rect x="840" y="321" width="3" height="31" fill="#FF0000"/>
<rect x="845" y="331" width="1" height="28" fill="#6495ED"/><rect x="844" y="336" width="3" height="16" fill="#6495ED"/>
<rect x="849" y="308" width="1" height="29" fill="#6495ED"/><rect x="848" y="311" width="3" height="26" fill="#6495ED"/>
<rect x="853" y="304" width="1" height="18" fill="#FF0000"/><rect x="852" y="311" width="3" height="8" fill="#FF0000"/>
<rect x="857" y="312" width="1" height="13" fill="#FF0000"/><rect x="856" y="318" width="3" height="3" fill="#FF0000"/>
<rect x="861" y="312" width="1" height="25" fill="#FF0000"/><rect x="860" y="320" width="3" height="9" fill="#FF0000"/>
<rect x="865" y="328" width="1" height="58" fill="#FF0000"/><rect x="864" y="328" width="3" height="56" fill="#FF0000"/>
<rect x="869" y="362" width="1" height="27" fill="#6495ED"/><rect x="868" y="365" width="3" height="19" fill="#6495ED"/>
<rect x="873" y="363" width="1" height="35" fill="#FF0000"/><rect x="872" y="364" width="3" height="33" fill="#FF0000"/>
<rect x="877" y="385" width="1" height="12" fill="#6495ED"/><rect x="876" y="394" width="3" height="3" fill="#6495ED"/>
<rect x="881" y="392" width="1" height="53" fill="#FF0000"/><rect x="880" y="394" width="3" height="35" fill="#FF0000"/>
<rect x="885" y="395" width="1" height="59" fill="#6495ED"/><rect x="884" y="403" width="3" height="26" fill="#6495ED"/>
<rect x="889" y="394" width="1" height="40" fill="#FF0000"/><rect x="888" y="403" width="3" height="4" fill="#FF0000"/>
<rect x="893" y="396" width="1" height="24" fill="#FF0000"/><rect x="892" y="406" width="3" height="5" fill="#FF0000"/>
<rect x="897" y="394" width="1" height="19" fill="#6495ED"/><rect x="896" y="407" width="3" height="4" fill="#6495ED"/>
<rect x="901" y="404" width="1" height="12" fill="#6495ED"/><rect x="900" y="405" width="3" height="3" fill="#6495ED"/>
<rect x="905" y="405" width="1" height="15" fill="#FF0000"/><rect x="904" y="406" width="3" height="12" fill="#FF0000"/>
<rect x="909" y="404" width="1" height="15" fill="#6495ED"/><rect x="908" y="407" width="3" height="11" fill="#6495ED"/>
<rect x="913" y="402" width="1" height="12" fill="#6495ED"/><rect x="912" y="405" width="3" height="3" fill="#6495ED"/>
<rect x="917" y="398" width="1" height="13" fill="#6495ED"/><rect x="916" y="400" width="3" height="7" fill="#6495ED"/>
<rect x="921" y="385" width="1" height="21" fill="#6495ED"/><rect x="920" y="389" width="3" height="12" fill="#6495ED"/>
<rect x="925" y="379" width="1" height="13" fill="#6495ED"/><rect x="924" y="388" width="3" height="2" fill="#6495ED"/>
<rect x="929" y="384" width="1" height="6" fill="#6495ED"/><rect x="928" y="388" width="3" height="2" fill="#6495ED"/>
<rect x="933" y="375" width="1" height="17" fill="#6495ED"/><rect x="932" y="383" width="3" height="6" fill="#6495ED"/>
<rect x="937" y="371" width="1" height="14" fill="#6495ED"/><rect x="936" y="377" width="3" height="7" fill="#6495ED"/>
<rect x="941" y="364" width="1" height="15" fill="#6495ED"/><rect x="940" y="365" width="3" height="13" fill="#6495ED"/>
<rect x="945" y="364" width="1" height="27" fill="#FF0000"/><rect x="944" y="365" width="3" height="7" fill="#FF0000"/>
<rect x="949" y="368" width="1" height="17" fill="#FF0000"/><rect x="948" y="371" width="3" height="8" fill="#FF0000"/>
<rect x="953" y="373" width="1" height="21" fill="#FF0000"/><rect x="952" y="378" width="3" height="12" fill="#FF0000"/>
<rect x="957" y="382" width="1" height="17" fill="#6495ED"/><rect x="956" y="388" width="3" height="2" fill="#6495ED"/>
<rect x="961" y="357" width="1" height="34" fill="#6495ED"/><rect x="960" y="357" width="3" height="32" fill="#6495ED"/>
<rect x="965" y="351" width="1" height="14" fill="#FF0000"/><rect x="964" y="357" width="3" height="2" fill="#FF0000"/>
<rect x="969" y="357" width="1" height="16" fill="#FF0000"/><rect x="968" y="358" width="3" height="10" fill="#FF0000"/>
<rect x="973" y="359" width="1" height="13" fill="#6495ED"/><rect x="972" y="365" width="3" height="3" fill="#6495ED"/>
<rect x="977" y="365" width="1" height="17" fill="#FF0000"/><rect x="976" y="365" width="3" height="8" fill="#FF0000"/>
<rect x="981" y="368" width="1" height="21" fill="#FF0000"/><rect x="980" y="373" width="3" height="8" fill="#FF0000"/>
<rect x="985" y="364" width="1" height="24" fill="#6495ED"/><rect x="984" y="374" width="3" height="7" fill="#6495ED"/>
<rect x="989" y="369" width="1" height="19" fill="#6495ED"/><rect x="988" y="370" width="3" height="5" fill="#6495ED"/>
<rect x="993" y="363" width="1" height="11" fill="#6495ED"/><rect x="992" y="367" width="3" height="3" fill="#6495ED"/>
</g>
<g>
<text transform="translate(0,360.4) scale(1.17,1)" x="40.68 65.56 88.18 113.87 136.99 159.94 196.43 205.30 228.93" y="0" font-size="47" fill="#FFDDC6" stroke="#FFDDC6" stroke-width="0.35">economies</text>
<text transform="translate(0,360.4) scale(1.17,1)" x="249.96 257.18 279.21" y="0" font-size="47" fill="#DADADA" stroke="#fff" stroke-width="1.9">.co</text>
<text transform="translate(0,360.4) scale(1.01,1)" x="349.92" y="0" font-size="47" fill="#DADADA" stroke="#fff" stroke-width="1.5">m</text>
<text transform="translate(0,400) scale(0.861,1)" x="101.66" y="0" font-size="44" font-weight="bold" fill="#EAEAEA" stroke="#fff" stroke-width="1.4" paint-order="stroke">F</text>
<text transform="translate(0,400) scale(1.148,1)" x="116.02" y="0" font-size="44" font-weight="bold" fill="#DCDCDC" stroke="#fff" stroke-width="1.4" paint-order="stroke">N</text>
<text transform="translate(0,400) scale(0.952,1)" x="175.71" y="0" font-size="44" font-weight="bold" fill="#E2E2E2" stroke="#fff" stroke-width="1.4" paint-order="stroke">e</text>
<text transform="translate(0,400) scale(0.877,1)" x="216.18" y="0" font-size="44" font-weight="bold" fill="#E2E2E2" stroke="#fff" stroke-width="1.4" paint-order="stroke">w</text>
<text transform="translate(0,400) scale(0.677,1)" x="323.56" y="0" font-size="44" font-weight="bold" fill="#E2E2E2" stroke="#fff" stroke-width="1.4" paint-order="stroke">s</text>
<text transform="translate(0,400) scale(1.005,1)" x="233.70" y="0" font-size="44" font-weight="bold" fill="#DADADA" stroke="#fff" stroke-width="1.4" paint-order="stroke">T</text>
<text transform="translate(0,400) scale(0.759,1)" x="342.11" y="0" font-size="44" font-weight="bold" fill="#E2E2E2" stroke="#fff" stroke-width="1.4" paint-order="stroke">o</text>
<text transform="translate(0,400) scale(0.845,1)" x="329.66" y="0" font-size="44" font-weight="bold" fill="#E2E2E2" stroke="#fff" stroke-width="1.4" paint-order="stroke">d</text>
<text transform="translate(0,400) scale(0.761,1)" x="396.84" y="0" font-size="44" font-weight="bold" fill="#E2E2E2" stroke="#fff" stroke-width="1.4" paint-order="stroke">a</text>
<text transform="translate(0,400) scale(0.934,1)" x="345.58" y="0" font-size="44" font-weight="bold" fill="#E2E2E2" stroke="#fff" stroke-width="1.4" paint-order="stroke">y</text>
<polyline points="111.8,377.3 120.5,386.6 132.3,377.3" fill="none" stroke="#F2D0D0" stroke-width="2.5" stroke-linecap="round" stroke-linejoin="round"/>
<polyline points="113.6,398 125.6,387.2 134.8,398" fill="none" stroke="#DAEDDA" stroke-width="2.5" stroke-linecap="round" stroke-linejoin="round"/>
</g>
<g shape-rendering="crispEdges" fill="#000">
<rect x="4" y="4" width="1234" height="1"/><rect x="4" y="4" width="1" height="461"/><rect x="4" y="464" width="1234" height="1"/><rect x="1237" y="4" width="1" height="461"/><rect x="1237" y="466" width="1" height="79"/>
<rect x="4" y="466" width="1234" height="1"/><rect x="4" y="466" width="1" height="79"/><rect x="4" y="544" width="1234" height="1"/>
<rect x="1238" y="32" width="2" height="1"/>
<rect x="1238" y="65" width="2" height="1"/>
<rect x="1238" y="98" width="2" height="1"/>
<rect x="1238" y="131" width="2" height="1"/>
<rect x="1238" y="164" width="2" height="1"/>
<rect x="1238" y="197" width="2" height="1"/>
<rect x="1238" y="230" width="2" height="1"/>
<rect x="1238" y="263" width="2" height="1"/>
<rect x="1238" y="329" width="2" height="1"/>
<rect x="1238" y="461" width="2" height="1"/>
<rect x="1238" y="296" width="2" height="1"/>
<rect x="1238" y="364" width="2" height="1"/>
<rect x="1238" y="398" width="2" height="1"/>
<rect x="1238" y="447" width="2" height="1"/>
<rect x="1238" y="468" width="1" height="1"/>
<rect x="1238" y="543" width="1" height="1"/>
<rect x="5" y="545" width="1" height="3"/>
<rect x="69" y="545" width="1" height="3"/>
<rect x="133" y="545" width="1" height="3"/>
<rect x="197" y="545" width="1" height="3"/>
<rect x="261" y="545" width="1" height="3"/>
<rect x="325" y="545" width="1" height="3"/>
<rect x="389" y="545" width="1" height="3"/>
<rect x="453" y="545" width="1" height="3"/>
<rect x="517" y="545" width="1" height="3"/>
<rect x="581" y="545" width="1" height="3"/>
<rect x="645" y="545" width="1" height="3"/>
<rect x="709" y="545" width="1" height="3"/>
<rect x="773" y="545" width="1" height="3"/>
<rect x="837" y="545" width="1" height="3"/>
<rect x="901" y="545" width="1" height="3"/>
<rect x="965" y="545" width="1" height="3"/>
</g>
<path d="M13 524.5h3M39 524.5h2M44 524.5h2M229 506.5h5M105 480.5h2M267 480.5h2M944 480.5h2M89 502.5h7M402 502.5h2M417 502.5h2M425 502.5h3M756 502.5h2M182 521.5h2M592 521.5h2M107 479.5h3M269 479.5h5M560 479.5h2M941 479.5h3M205 486.5h3M933 486.5h2M20 523.5h2M37 523.5h2M485 523.5h2M773 523.5h2M742 494.5h2M930 484.5h2M461 520.5h3M581 520.5h2M842 520.5h2M17 522.5h3M487 522.5h2M253 489.5h2M901 489.5h3M585 518.5h3M956 518.5h2M261 482.5h3M824 482.5h2M922 482.5h2M747 493.5h2M298 529.5h2M364 529.5h2M476 529.5h6M645 529.5h2M723 529.5h2M410 497.5h2M737 497.5h2M73 485.5h5M114 485.5h2M130 485.5h2M856 485.5h2M935 485.5h2M362 528.5h2M713 528.5h3M718 528.5h2M716 527.5h2M653 533.5h3M349 510.5h3M539 514.5h2M544 514.5h4M986 514.5h2M541 513.5h3M801 536.5h3M878 536.5h2M87 501.5h2M96 501.5h2M312 501.5h2M668 501.5h2M157 504.5h2M421 504.5h2M212 490.5h2M255 490.5h3M788 490.5h2M300 530.5h2M473 530.5h3M647 530.5h2M721 530.5h2M464 519.5h2M583 519.5h2M588 517.5h2M85 500.5h2M414 500.5h2M739 496.5h2M785 491.5h3M169 535.5h2M873 535.5h5M325 526.5h11M529 526.5h2M680 526.5h2M352 509.5h2M393 509.5h3M117 483.5h5M246 483.5h2M821 483.5h3M537 515.5h2M548 515.5h2M124 477.5h2M615 477.5h2M651 532.5h2M656 532.5h2M41 525.5h3M336 525.5h2M531 525.5h2M678 525.5h2M419 503.5h2M423 503.5h2M428 503.5h2M628 503.5h2M198 481.5h2M264 481.5h3M926 481.5h2M28 508.5h2M396 508.5h2M208 487.5h2M509 476.5h2M612 476.5h3M745 492.5h2M692 499.5h2M145 537.5h3M804 537.5h2M880 537.5h2M50 531.5h2M649 531.5h2M217 478.5h2M609 475.5h3M791.5 497v4M382.5 478v2M214.5 486v4M729.5 522v2M917.5 493v3M385.5 484v2M813.5 518v5M859.5 488v3M556.5 486v4M784.5 493v4M164.5 520v4M210.5 488v1M84.5 498v2M818.5 492v4M23.5 517v2M138.5 504v5M194.5 485v1M140.5 514v5M319.5 514v3M151.5 522v5M392.5 504v4M973.5 488v2M992.5 498v4M898.5 494v2M490.5 518v2M502.5 493v3M11.5 519v3M620.5 484v2M524.5 514v4M551.5 507v3M980.5 504v2M100.5 490v3M133.5 487v2M957.5 519v2M447.5 534v2M627.5 501v2M866.5 518v2M624.5 495v3M342.5 518v1M407.5 498v1M373.5 503v4M303.5 525v2M295.5 520v4M775.5 520v2M570.5 496v3M916.5 496v3M855.5 486v2M961.5 501v5M812.5 523v2M281.5 479v2M911.5 501v3M676.5 519v4M950.5 492v6M782.5 500v4M573.5 505v3M794.5 510v4M835.5 513v2M838.5 518v1M574.5 508v2M839.5 519v1M288.5 494v3M634.5 495v2M862.5 497v6M760.5 491v4M432.5 509v2M435.5 514v2M455.5 528v2M732.5 511v4M450.5 535v2M638.5 505v3M630.5 500v3M221.5 481v3M767.5 505v4M383.5 480v2M98.5 497v3M372.5 507v4M36.5 521v2M384.5 482v2M770.5 516v2M790.5 493v4M122.5 481v2M314.5 502v2M858.5 486v2M390.5 496v4M914.5 503v3M516.5 491v3M831.5 502v4M682.5 522v4M854.5 488v1M781.5 504v3M600.5 489v5M664.5 510v5M952.5 503v6M375.5 495v4M554.5 495v4M720.5 529v1M816.5 500v6M10.5 517v2M526.5 520v2M619.5 482v2M149.5 533v3M766.5 501v4M306.5 516v3M413.5 499v1M55.5 524v2M625.5 498v2M216.5 479v4M731.5 515v3M865.5 514v4M979.5 501v3M963.5 493v4M827.5 488v4M176.5 528v1M449.5 537v1M658.5 531v1M629.5 504v1M785.5 492v1M755.5 500v2M671.5 504v3M557.5 483v3M294.5 517v3M891.5 506v4M515.5 487v4M24.5 514v3M820.5 485v4M872.5 531v3M569.5 494v2M165.5 524v3M575.5 510v2M910.5 499v2M735.5 502v3M599.5 494v4M358.5 516v3M598.5 498v5M663.5 515v5M287.5 492v2M696.5 509v5M841.5 521v1M959.5 510v4M238.5 493v2M552.5 503v4M639.5 508v4M290.5 501v4M219.5 479v1M305.5 519v3M222.5 484v4M161.5 509v3M758.5 498v4M814.5 512v6M882.5 534v3M511.5 478v2M890.5 510v3M313.5 500v1M962.5 497v4M135.5 493v3M188.5 504v4M389.5 492v4M494.5 511v1M400.5 504v1M472.5 528v2M370.5 516v4M309.5 507v2M5.5 504v2M58.5 515v4M617.5 478v2M522.5 506v4M795.5 514v5M734.5 505v3M798.5 527v3M192.5 488v4M967.5 484v2M894.5 500v1M662.5 520v5M237.5 495v2M606.5 478v1M30.5 509v2M144.5 532v4M156.5 505v2M31.5 511v2M984.5 513v2M567.5 490v2M881.5 538v1M873.5 534v1M684.5 515v4M602.5 484v2M870.5 526v3M225.5 496v3M940.5 480v1M643.5 521v4M312.5 502v1M666.5 505v2M555.5 490v5M460.5 521v2M860.5 491v2M368.5 523v2M68.5 490v2M308.5 509v3M928.5 482v1M764.5 495v2M970.5 483v2M761.5 489v2M597.5 503v5M346.5 513v1M64.5 497v2M893.5 501v2M966.5 486v1M563.5 482v2M235.5 500v2M550.5 510v4M341.5 519v1M510.5 477v1M513.5 482v2M259.5 486v2M444.5 530v2M48.5 530v2M828.5 492v4M774.5 522v1M470.5 524v2M213.5 491v1M277.5 475v1M296.5 524v3M202.5 480v2M77.5 486v1M278.5 476v1M80.5 491v2M691.5 501v2M274.5 478v1M817.5 496v4M535.5 519v2M367.5 525v2M186.5 513v4M359.5 519v4M454.5 530v1M797.5 523v4M808.5 532v2M759.5 495v3M884.5 527v3M125.5 476v1M291.5 505v4M436.5 516v2M292.5 509v4M143.5 528v4M892.5 503v3M234.5 502v3M380.5 478v3M340.5 520v2M258.5 488v2M846.5 514v3M60.5 507v4M493.5 512v2M505.5 485v3M694.5 500v5M169.5 536v1M762.5 491v2M972.5 486v2M763.5 493v2M975.5 492v2M712.5 527v1M523.5 510v4M54.5 526v2M180.5 523v1M622.5 489v3M989.5 510v3M484.5 524v2M750.5 495v1M883.5 530v4M982.5 509v2M751.5 496v1M562.5 480v2M595.5 512v4M203.5 482v2M78.5 487v2M674.5 512v4M830.5 499v3M204.5 484v2M727.5 525v2M677.5 523v2M59.5 511v4M79.5 489v2M82.5 494v2M591.5 519v2M492.5 514v2M284.5 485v2M504.5 488v3M242.5 487v2M837.5 517v1M67.5 492v2M633.5 493v2M697.5 514v3M374.5 499v4M708.5 524v1M438.5 520v2M179.5 524v2M408.5 497v1M815.5 506v6M607.5 477v1M849.5 504v4M215.5 483v3M772.5 521v2M518.5 497v2M276.5 476v1M833.5 509v2M710.5 524v1M320.5 517v3M430.5 505v2M456.5 527v1M66.5 494v2M12.5 522v2M621.5 486v3M632.5 495v3M528.5 524v2M981.5 506v3M753.5 498v1M62.5 501v2M293.5 513v4M448.5 536v1M601.5 486v3M947.5 484v2M673.5 509v3M571.5 499v3M783.5 497v3M459.5 523v1M282.5 481v2M377.5 488v3M577.5 514v2M912.5 504v2M698.5 517v1M536.5 517v2M897.5 496v2M635.5 497v3M57.5 519v3M863.5 503v5M289.5 497v4M141.5 519v5M345.5 514v1M688.5 507v2M920.5 485v3M190.5 496v4M99.5 493v4M498.5 504v2M771.5 518v3M315.5 504v2M904.5 490v1M517.5 494v3M737.5 498v1M7.5 509v2M376.5 491v4M832.5 506v3M807.5 534v1M851.5 496v4M181.5 522v1M919.5 488v2M687.5 509v2M626.5 500v1M33.5 515v2M25.5 512v2M945.5 481v1M641.5 515v3M97.5 500v1M371.5 511v5M497.5 506v2M946.5 482v2M250.5 486v1M793.5 505v5M644.5 525v3M227.5 501v2M173.5 531v1M728.5 524v1M576.5 512v2M139.5 509v5M736.5 499v3M193.5 486v2M489.5 520v2M918.5 490v3M162.5 512v4M512.5 480v2M819.5 489v3M200.5 480v1M379.5 481v4M211.5 489v1M109.5 478v1M302.5 527v3M71.5 487v1M845.5 517v2M241.5 489v1M355.5 511v2M811.5 525v3M6.5 506v3M887.5 519v2M347.5 512v1M864.5 508v6M142.5 524v4M127.5 480v2M757.5 503v1M32.5 513v2M404.5 501v1M468.5 522v1M508.5 477v3M226.5 499v2M229.5 505v1M593.5 520v1M593.5 522v1M792.5 501v4M187.5 508v5M116.5 484v1M692.5 500v1M275.5 477v1M681.5 527v1M369.5 520v3M810.5 528v2M886.5 521v3M954.5 513v2M974.5 490v2M765.5 497v4M806.5 535v2M711.5 525v2M661.5 525v3M236.5 497v3M749.5 494v1M564.5 484v2M27.5 509v2M514.5 484v3M848.5 508v3M338.5 523v2M665.5 507v3M152.5 516v6M951.5 498v5M307.5 512v4M360.5 523v3M660.5 528v1M699.5 518v2M437.5 518v2M440.5 524v2M559.5 480v2M45.5 525v1M163.5 516v4M26.5 511v1M166.5 527v3M889.5 513v3M399.5 505v2M391.5 500v4M520.5 501v2M185.5 517v3M709.5 523v1M103.5 483v2M976.5 494v2M953.5 509v4M800.5 532v3M686.5 511v2M778.5 513v3M527.5 522v2M565.5 486v2M155.5 507v3M189.5 500v4M744.5 493v1M683.5 519v3M172.5 532v1M949.5 488v4M83.5 496v2M72.5 486v1M184.5 520v1M150.5 527v6M102.5 485v2M501.5 496v3M439.5 522v2M442.5 527v2M777.5 516v2M769.5 513v3M789.5 491v2M223.5 488v4M154.5 510v2M594.5 516v4M386.5 486v2M773.5 524v1M317.5 508v3M70.5 488v1M9.5 514v3M929.5 483v1M834.5 511v2M519.5 499v2M321.5 520v2M324.5 525v1M366.5 527v2M431.5 507v2M13.5 525v1M453.5 531v1M343.5 516v2M826.5 484v4M799.5 530v2M867.5 520v2M776.5 518v2M145.5 536v1M145.5 538v1M233.5 505v1M35.5 519v2M948.5 486v2M248.5 484v1M339.5 522v1M249.5 485v1M283.5 483v2M578.5 516v1M885.5 524v3M913.5 506v2M925.5 480v1M780.5 507v3M191.5 492v4M703.5 524v1M53.5 528v2M452.5 532v2M768.5 509v4M988.5 513v1M134.5 489v4M148.5 536v1M123.5 479v2M61.5 503v4M388.5 490v2M174.5 530v1M730.5 518v4M829.5 496v3M316.5 506v2M111.5 482v2M322.5 522v1M8.5 511v3M429.5 504v1M354.5 510v1M357.5 514v2M56.5 522v2M217.5 477v1M596.5 508v4M752.5 497v1M869.5 524v2M558.5 482v1M52.5 530v1M126.5 478v2M178.5 526v1M224.5 492v4M34.5 517v2M482.5 527v2M466.5 520v1M228.5 503v2M580.5 519v1M22.5 519v3M695.5 505v4M991.5 502v4M701.5 521v1M850.5 500v4M965.5 487v2M702.5 522v2M705.5 527v1M733.5 508v3M405.5 500v1M604.5 480v2M983.5 511v2M136.5 496v4M915.5 499v4M196.5 483v1M675.5 516v3M907.5 494v1M960.5 506v4M458.5 524v2M796.5 519v4M990.5 506v4M101.5 487v3M409.5 496v1M637.5 502v3M158.5 505v1M964.5 489v4M344.5 515v1M754.5 499v1M128.5 482v2M640.5 512v3M301.5 531v1M378.5 485v3M693.5 497v2M861.5 493v4M853.5 489v3M457.5 526v1M618.5 480v2M553.5 499v4M955.5 515v2M670.5 502v2M985.5 515v1M905.5 491v1M507.5 480v2M297.5 527v2M906.5 492v2M909.5 497v2M993.5 496v2M852.5 492v4M932.5 485v1M286.5 489v3M809.5 530v2M924.5 481v1M958.5 514v4M441.5 526v1M46.5 526v2M49.5 532v1M847.5 511v3M251.5 487v1M137.5 500v4M471.5 526v2M901.5 488v1M506.5 482v3M244.5 483v2M240.5 490v2M956.5 517v1M977.5 496v3M623.5 492v3M801.5 535v1M825.5 483v1M177.5 527v1M406.5 499v1M566.5 488v2M669.5 500v1M939.5 481v2M888.5 516v3M197.5 482v1M311.5 503v2M21.5 522v1M900.5 490v2M243.5 485v2M285.5 487v2M969.5 482v1M239.5 492v1M443.5 529v1M47.5 528v2M201.5 479v1M387.5 488v2M318.5 511v3M310.5 505v2M110.5 480v2M899.5 492v2M690.5 503v2M534.5 521v2M895.5 499v1M416.5 501v1M500.5 499v2M63.5 499v2M124.5 478v1M261.5 483v1M868.5 522v2M659.5 529v2M153.5 512v4M572.5 502v3M81.5 493v1M537.5 516v1M168.5 532v3M393.5 508v1M579.5 517v2M689.5 505v2M921.5 483v2M533.5 523v2M365.5 530v1M525.5 518v2M700.5 520v1M412.5 498v1M685.5 513v2M704.5 525v2M978.5 499v2M499.5 501v3M260.5 484v2M495.5 509v2M171.5 533v2M726.5 527v1M844.5 519v1M112.5 484v2M521.5 503v3M491.5 516v2M323.5 523v2M433.5 511v1M779.5 510v3M706.5 526v1M434.5 512v2M605.5 479v1M361.5 526v2M821.5 484v1M304.5 522v3M381.5 476v2M642.5 518v3M645.5 528v1M398.5 507v1M167.5 530v2M69.5 489v1M631.5 498v2M132.5 486v1M65.5 496v1M668.5 502v1M672.5 507v2M113.5 486v1M938.5 483v1M908.5 495v2M968.5 483v1M356.5 513v1M129.5 484v1M603.5 482v2M667.5 503v2M857.5 484v1M568.5 492v2M871.5 529v2M245.5 482v1M840.5 520v1M16.5 523v1M707.5 525v1M636.5 500v2M157.5 503v1M160.5 507v2M467.5 521v1M741.5 495v1M175.5 529v1M252.5 488v1M725.5 528v1M195.5 484v1M104.5 481v2M836.5 515v2M503.5 491v2M896.5 498v1M220.5 480v1M608.5 476v1M159.5 506v1M451.5 534v1M509.5 475v1M469.5 523v1M937.5 484v1M348.5 511v1M29.5 507v1M549.5 514v1M496.5 508v1M257.5 491v1M971.5 485v1M561.5 478v1M445.5 532v1M446.5 533v1M401.5 503v1M279.5 477v1M590.5 518v1M280.5 478v1M483.5 526v1" fill="none" stroke="#6495ED" stroke-width="1" shape-rendering="crispEdges"/>
<path d="M401 506.5h2M696 506.5h2M161 509.5h2M109 482.5h7M132 482.5h2M201 482.5h6M514 482.5h2M929 482.5h3M943 482.5h2M947 482.5h2M353 511.5h5M304 526.5h2M333 526.5h5M486 526.5h2M713 526.5h6M236 502.5h2M421 502.5h3M217 485.5h2M252 485.5h2M748 494.5h4M902 494.5h2M629 497.5h2M760 497.5h6M542 516.5h2M841 516.5h2M592 519.5h2M149 531.5h2M173 531.5h5M449 531.5h2M653 531.5h3M660 531.5h2M17 521.5h2M468 521.5h2M684 521.5h2M116 483.5h4M122 483.5h2M207 483.5h2M221 483.5h2M385 483.5h3M932 483.5h4M940 483.5h3M19 522.5h2M42 522.5h2M465 522.5h3M470 522.5h2M536 522.5h2M706 522.5h2M681 520.5h3M403 505.5h2M693 505.5h3M413 498.5h3M631 498.5h2M757 498.5h3M766 498.5h2M913 498.5h3M860 490.5h2M125 481.5h7M269 481.5h3M945 481.5h2M545 514.5h5M409 500.5h2M418 500.5h2M636 500.5h2M120 484.5h2M219 484.5h2M223 484.5h2M388 484.5h2M936 484.5h4M74 489.5h2M52 528.5h4M479 528.5h2M483 528.5h2M721 528.5h7M329 524.5h2M366 524.5h2M709 524.5h2M46 525.5h2M301 525.5h3M331 525.5h2M338 525.5h2M474 525.5h2M711 525.5h2M249 486.5h3M254 486.5h2M263 486.5h2M49 527.5h3M56 527.5h2M477 527.5h2M719 527.5h2M728 527.5h2M90 499.5h2M411 499.5h2M416 499.5h2M633 499.5h3M916 499.5h2M585 518.5h7M778 517.5h2M843 517.5h2M846 517.5h2M990 510.5h2M80 488.5h2M246 488.5h2M257 488.5h3M828 488.5h2M398 504.5h2M431 504.5h2M905 492.5h5M453 533.5h2M806 533.5h2M30 513.5h2M350 513.5h2M77 487.5h3M214 487.5h2M260 487.5h3M825 487.5h3M974 487.5h2M745 495.5h3M752 495.5h2M789 495.5h3M93 501.5h5M613 476.5h5M533 523.5h3M451 532.5h2M455 532.5h2M656 532.5h4M233 503.5h3M424 503.5h7M754 496.5h2M792 496.5h2M272 480.5h3M151 530.5h2M277 478.5h6M481 529.5h2M275 479.5h2M283 479.5h2M673.5 506v1M392.5 491v3M894.5 510v2M141.5 502v4M510.5 485v1M521.5 493v3M27.5 516v2M11.5 507v4M326.5 519v2M836.5 504v3M848.5 516v1M954.5 496v3M323.5 514v2M286.5 482v2M539.5 519v2M381.5 490v2M957.5 506v2M958.5 508v1M856.5 495v3M867.5 503v4M691.5 509v3M805.5 531v2M293.5 499v3M555.5 504v2M296.5 509v4M267.5 483v1M870.5 513v4M37.5 515v1M225.5 485v2M194.5 498v3M38.5 516v2M794.5 498v3M688.5 516v2M744.5 496v2M649.5 524v2M232.5 501v2M64.5 509v3M893.5 512v3M497.5 513v1M509.5 486v2M584.5 517v1M604.5 492v4M26.5 518v1M740.5 503v2M702.5 513v2M379.5 496v4M976.5 488v1M368.5 525v1M433.5 505v1M977.5 489v2M781.5 514v2M820.5 502v4M623.5 484v2M770.5 502v3M627.5 492v2M855.5 498v2M771.5 505v3M923.5 490v2M554.5 506v3M831.5 492v2M984.5 504v2M675.5 508v2M949.5 483v2M919.5 497v1M374.5 514v4M676.5 510v1M63.5 512v2M83.5 490v2M679.5 515v2M835.5 501v3M815.5 521v4M10.5 504v3M288.5 486v2M953.5 493v3M891.5 518v4M862.5 491v2M285.5 480v2M370.5 524v2M603.5 496v3M71.5 493v1M154.5 525v3M146.5 522v3M803.5 527v2M292.5 496v3M378.5 500v4M819.5 506v4M735.5 514v3M611.5 478v1M443.5 521v2M853.5 503v3M165.5 512v2M788.5 497v2M607.5 484v3M344.5 520v1M390.5 486v3M651.5 528v1M516.5 483v1M139.5 496v3M231.5 499v2M169.5 522v3M142.5 506v4M382.5 488v2M172.5 529v2M814.5 525v3M394.5 497v2M890.5 522v3M313.5 509v2M541.5 517v1M838.5 510v2M785.5 503v3M359.5 513v2M369.5 526v1M810.5 533v2M70.5 494v2M625.5 488v2M153.5 528v2M457.5 531v1M985.5 506v2M887.5 529v1M852.5 506v3M986.5 508v1M598.5 511v3M677.5 511v2M882.5 535v1M606.5 487v2M575.5 499v3M157.5 516v3M864.5 495v2M822.5 496v3M861.5 489v1M799.5 514v4M312.5 511v2M784.5 506v3M145.5 518v4M365.5 523v1M441.5 518v1M704.5 518v2M897.5 503v3M643.5 509v3M925.5 486v2M772.5 508v3M376.5 507v4M597.5 514v2M389.5 485v1M817.5 514v4M138.5 493v3M178.5 530v1M170.5 525v2M518.5 486v2M171.5 527v2M833.5 496v2M395.5 499v2M5.5 494v2M498.5 511v2M859.5 491v1M396.5 501v2M730.5 525v2M522.5 496v3M742.5 499v2M156.5 519v3M840.5 514v2M12.5 511v3M821.5 499v3M782.5 511v3M185.5 522v2M756.5 497v1M873.5 524v2M987.5 509v1M34.5 512v1M924.5 488v2M182.5 526v1M988.5 510v1M550.5 513v1M687.5 518v1M573.5 494v3M596.5 516v1M825.5 488v1M574.5 497v2M920.5 496v1M87.5 495v2M965.5 503v2M581.5 513v2M372.5 520v2M667.5 516v2M72.5 491v2M901.5 495v2M505.5 496v3M705.5 520v2M107.5 485v2M854.5 500v3M980.5 495v2M664.5 524v2M565.5 482v1M566.5 483v1M103.5 493v2M879.5 533v2M44.5 523v1M880.5 535v1M918.5 498v1M686.5 519v2M384.5 484v2M397.5 503v1M832.5 494v2M824.5 489v3M911.5 495v1M964.5 505v2M800.5 518v4M241.5 496v2M972.5 487v1M869.5 510v3M197.5 489v3M804.5 529v2M348.5 515v1M872.5 520v4M67.5 501v2M663.5 526v2M36.5 514v1M644.5 512v3M227.5 489v3M40.5 519v2M796.5 503v3M191.5 507v3M317.5 505v1M671.5 508v2M849.5 514v2M318.5 506v1M579.5 509v2M582.5 515v1M583.5 516v1M963.5 507v2M188.5 516v2M461.5 526v1M809.5 535v1M557.5 498v3M978.5 491v2M196.5 492v3M195.5 495v3M979.5 493v2M309.5 518v2M971.5 488v2M886.5 530v2M734.5 517v2M160.5 510v2M66.5 503v3M830.5 490v2M967.5 496v4M670.5 510v1M837.5 507v3M955.5 499v4M287.5 484v2M327.5 521v1M24.5 520v1M328.5 522v2M187.5 518v2M556.5 501v3M491.5 521v2M134.5 484v2M308.5 520v2M226.5 487v2M780.5 516v1M564.5 483v1M650.5 526v2M319.5 507v2M560.5 489v3M256.5 487v1M741.5 501v2M373.5 518v2M244.5 490v2M528.5 513v2M624.5 486v2M609.5 480v2M570.5 488v2M307.5 522v2M563.5 484v2M950.5 485v3M342.5 522v1M680.5 517v2M84.5 492v1M577.5 504v3M892.5 515v3M559.5 492v3M698.5 507v1M463.5 524v1M863.5 493v2M900.5 497v2M458.5 530v1M60.5 520v2M106.5 487v2M600.5 506v3M166.5 514v3M501.5 505v2M774.5 513v2M159.5 512v2M212.5 487v1M391.5 489v2M652.5 529v2M7.5 498v2M523.5 499v3M956.5 503v3M538.5 521v1M530.5 517v2M435.5 508v1M59.5 522v2M708.5 523v1M527.5 510v3M626.5 490v2M899.5 499v2M504.5 499v2M298.5 516v3M500.5 507v2M678.5 513v2M576.5 502v2M85.5 493v1M400.5 505v1M86.5 494v1M865.5 497v3M496.5 514v2M508.5 488v3M845.5 518v1M693.5 506v1M868.5 507v3M769.5 500v2M885.5 532v1M982.5 500v2M445.5 525v1M183.5 525v1M446.5 526v2M164.5 511v1M773.5 511v2M776.5 516v2M476.5 526v1M92.5 500v1M499.5 509v2M9.5 502v2M834.5 498v3M511.5 483v2M6.5 496v2M910.5 493v2M200.5 483v2M23.5 521v1M495.5 516v1M602.5 499v4M434.5 506v2M928.5 483v1M783.5 509v2M438.5 512v2M639.5 502v1M297.5 513v3M646.5 518v2M229.5 494v3M88.5 497v1M813.5 528v2M808.5 534v1M349.5 514v1M737.5 509v3M447.5 528v1M69.5 496v2M981.5 497v3M517.5 484v2M851.5 509v2M98.5 500v1M341.5 523v1M605.5 489v3M912.5 496v2M839.5 512v2M462.5 525v1M380.5 492v4M371.5 522v2M812.5 530v2M311.5 513v3M641.5 504v2M147.5 525v2M736.5 512v2M969.5 491v2M896.5 506v2M102.5 495v2M645.5 515v3M375.5 511v3M850.5 511v3M473.5 524v1M816.5 518v3M89.5 498v1M383.5 486v2M140.5 499v3M143.5 510v4M858.5 492v1M268.5 482v1M690.5 512v2M32.5 512v1M265.5 485v1M569.5 486v2M895.5 508v2M952.5 490v3M544.5 515v1M245.5 489v1M666.5 518v3M857.5 493v2M294.5 502v4M689.5 514v2M135.5 486v2M179.5 529v1M39.5 518v1M408.5 501v1M168.5 519v3M393.5 494v3M320.5 509v1M823.5 492v4M525.5 505v3M62.5 514v3M494.5 517v2M802.5 525v2M529.5 515v2M532.5 521v2M240.5 498v1M628.5 494v2M567.5 484v1M818.5 510v4M45.5 524v1M551.5 512v1M571.5 490v2M300.5 521v3M874.5 526v2M798.5 510v4M787.5 499v2M190.5 510v3M76.5 488v1M316.5 506v1M866.5 500v3M289.5 488v2M144.5 514v4M699.5 508v2M889.5 525v2M243.5 492v2M133.5 483v1M444.5 523v2M608.5 482v2M239.5 499v2M41.5 521v1M167.5 517v2M733.5 519v2M340.5 524v1M520.5 491v2M322.5 512v2M558.5 495v3M786.5 501v2M524.5 502v3M14.5 516v2M360.5 515v1M801.5 522v3M531.5 519v2M436.5 509v2M629.5 496v1M295.5 506v3M638.5 501v1M599.5 509v2M101.5 497v1M876.5 529v2M29.5 514v1M512.5 482v1M648.5 522v2M158.5 514v2M732.5 521v2M797.5 506v4M618.5 477v1M701.5 511v2M21.5 523v1M622.5 482v2M926.5 485v1M553.5 509v2M922.5 492v2M519.5 488v3M743.5 498v1M594.5 518v1M358.5 512v1M13.5 514v2M507.5 491v2M16.5 519v2M739.5 505v2M362.5 517v2M490.5 523v1M105.5 489v2M347.5 516v2M640.5 503v1M407.5 502v1M647.5 520v2M552.5 511v1M921.5 494v2M878.5 532v1M966.5 500v3M73.5 490v1M199.5 485v2M460.5 527v1M620.5 479v1M506.5 493v3M621.5 480v2M768.5 499v1M665.5 521v3M448.5 529v2M346.5 518v1M775.5 515v1M377.5 504v3M8.5 500v2M951.5 488v2M315.5 507v1M904.5 493v1M961.5 511v1M198.5 487v2M459.5 528v2M642.5 506v3M266.5 484v1M68.5 498v3M884.5 533v1M48.5 526v1M228.5 492v2M137.5 490v3M668.5 513v3M155.5 522v3M189.5 513v3M22.5 522v1M310.5 516v2M489.5 524v1M180.5 528v1M777.5 518v1M968.5 493v3M28.5 515v1M216.5 486v1M731.5 523v2M193.5 501v3M299.5 519v2M580.5 511v2M291.5 493v3M149.5 530v1M184.5 524v1M136.5 488v2M472.5 523v1M192.5 504v3M561.5 487v2M82.5 489v1M321.5 510v2M324.5 516v2M108.5 483v2M993.5 508v1M871.5 517v3M662.5 528v2M572.5 492v2M578.5 507v2M61.5 517v3M290.5 490v3M962.5 509v2M700.5 510v1M703.5 515v3M601.5 503v3M148.5 527v3M345.5 519v1M99.5 499v1M65.5 506v3M314.5 508v1M669.5 511v2M927.5 484v1M352.5 512v1M15.5 518v1M364.5 521v2M888.5 527v2M440.5 516v2M186.5 520v2M883.5 534v1M163.5 510v1M793.5 497v1M181.5 527v1M595.5 517v1M213.5 488v1M493.5 519v1M619.5 478v1M488.5 525v1M983.5 502v2M33.5 511v1M674.5 507v1M306.5 524v2M405.5 504v1M959.5 509v1M363.5 519v2M960.5 510v1M439.5 514v2M242.5 494v2M442.5 519v2M420.5 501v1M875.5 528v1M230.5 497v2M681.5 519v1M248.5 487v1M526.5 508v2M738.5 507v2M992.5 509v1M898.5 501v2M58.5 524v2M104.5 491v2M970.5 490v1M503.5 501v2M661.5 530v1M35.5 513v1M795.5 501v2M973.5 486v1M361.5 516v1M540.5 518v1M437.5 511v1M692.5 507v2M877.5 531v1M672.5 507v1M502.5 503v2M485.5 527v1M562.5 486v1M513.5 481v1M209.5 484v1M406.5 503v1M25.5 519v1M492.5 520v1M612.5 477v1M238.5 501v1M789.5 496v1M325.5 518v1M610.5 479v1M811.5 532v1M989.5 511v1M161.5 508v1M100.5 498v1M343.5 521v1M301.5 524v1M124.5 482v1M210.5 485v1M211.5 486v1M464.5 523v1M57.5 526v1M568.5 485v1M829.5 489v1M881.5 536v1" fill="none" stroke="#FF0000" stroke-width="1" shape-rendering="crispEdges"/>
<g shape-rendering="crispEdges" stroke="#C0C0C0" stroke-width="1" stroke-dasharray="3 3"><line x1="6" y1="483.5" x2="1237" y2="483.5"/><line x1="6" y1="528.5" x2="1237" y2="528.5"/></g>
<text x="1243.5" y="36" font-size="9.8" fill="#000" stroke="#000" stroke-width="0.18" textLength="29.5" lengthAdjust="spacingAndGlyphs">115888</text>
<text x="1243.5" y="69" font-size="9.8" fill="#000" stroke="#000" stroke-width="0.18" textLength="29.5" lengthAdjust="spacingAndGlyphs">113088</text>
<text x="1243.5" y="102" font-size="9.8" fill="#000" stroke="#000" stroke-width="0.18" textLength="29.5" lengthAdjust="spacingAndGlyphs">110288</text>
<text x="1243.5" y="135" font-size="9.8" fill="#000" stroke="#000" stroke-width="0.18" textLength="29.5" lengthAdjust="spacingAndGlyphs">107568</text>
<text x="1243.5" y="168" font-size="9.8" fill="#000" stroke="#000" stroke-width="0.18" textLength="29.5" lengthAdjust="spacingAndGlyphs">104768</text>
<text x="1243.5" y="201" font-size="9.8" fill="#000" stroke="#000" stroke-width="0.18" textLength="29.5" lengthAdjust="spacingAndGlyphs">101968</text>
<text x="1243.5" y="234" font-size="9.8" fill="#000" stroke="#000" stroke-width="0.18" textLength="24.5" lengthAdjust="spacingAndGlyphs">99248</text>
<text x="1243.5" y="267" font-size="9.8" fill="#000" stroke="#000" stroke-width="0.18" textLength="24.5" lengthAdjust="spacingAndGlyphs">96448</text>
<text x="1243.5" y="333" font-size="9.8" fill="#000" stroke="#000" stroke-width="0.18" textLength="24.5" lengthAdjust="spacingAndGlyphs">90928</text>
<text x="1243.5" y="465" font-size="9.8" fill="#000" stroke="#000" stroke-width="0.18" textLength="24.5" lengthAdjust="spacingAndGlyphs">79888</text>
<rect x="1239" y="362" width="33" height="11" fill="#000" shape-rendering="crispEdges"/>
<text x="1243.5" y="371" font-size="9.8" fill="#fff" stroke="#fff" stroke-width="0.18" textLength="24.5" lengthAdjust="spacingAndGlyphs">87765</text>
<rect x="1239" y="290" width="33" height="11" fill="#DC143C" shape-rendering="crispEdges"/>
<text x="1243.5" y="299" font-size="9.8" fill="#fff" stroke="#fff" stroke-width="0.18" textLength="24.5" lengthAdjust="spacingAndGlyphs">93714</text>
<rect x="1239" y="358" width="33" height="11" fill="#DC143C" shape-rendering="crispEdges"/>
<text x="1243.5" y="367" font-size="9.8" fill="#fff" stroke="#fff" stroke-width="0.18" textLength="24.5" lengthAdjust="spacingAndGlyphs">88020</text>
<rect x="1239" y="392" width="33" height="11" fill="#3CB371" shape-rendering="crispEdges"/>
<text x="1243.5" y="401" font-size="9.8" fill="#fff" stroke="#fff" stroke-width="0.18" textLength="24.5" lengthAdjust="spacingAndGlyphs">85174</text>
<rect x="1239" y="441" width="33" height="11" fill="#3CB371" shape-rendering="crispEdges"/>
<text x="1243.5" y="450" font-size="9.8" fill="#fff" stroke="#fff" stroke-width="0.18" textLength="24.5" lengthAdjust="spacingAndGlyphs">81071</text>
<text x="1241.5" y="477" font-size="9.8" fill="#000" stroke="#000" stroke-width="0.18" textLength="14.5" lengthAdjust="spacingAndGlyphs">100</text>
<text x="1240.3" y="487" font-size="9.8" fill="#000" stroke="#000" stroke-width="0.18" textLength="9.5" lengthAdjust="spacingAndGlyphs">80</text>
<text x="1240.3" y="532" font-size="9.8" fill="#000" stroke="#000" stroke-width="0.18" textLength="9.5" lengthAdjust="spacingAndGlyphs">20</text>
<text x="1241" y="541" font-size="9.8" fill="#000" stroke="#000" stroke-width="0.18" textLength="4.8" lengthAdjust="spacingAndGlyphs">0</text>
<g shape-rendering="crispEdges" fill="#000"><rect x="8" y="11" width="7" height="1"/><rect x="9" y="12" width="5" height="1"/><rect x="10" y="13" width="3" height="1"/><rect x="11" y="14" width="1" height="1"/></g>
<text x="21" y="16" font-size="9.8" fill="#000" stroke="#000" stroke-width="0.18" textLength="53.5" lengthAdjust="spacingAndGlyphs">BTCUSD,H4</text>
<text x="80" y="16" font-size="9.8" fill="#000" stroke="#000" stroke-width="0.18" textLength="24.5" lengthAdjust="spacingAndGlyphs">87542</text>
<text x="108" y="16" font-size="9.8" fill="#000" stroke="#000" stroke-width="0.18" textLength="24.5" lengthAdjust="spacingAndGlyphs">88110</text>
<text x="136" y="16" font-size="9.8" fill="#000" stroke="#000" stroke-width="0.18" textLength="24.5" lengthAdjust="spacingAndGlyphs">87206</text>
<text x="164" y="16" font-size="9.8" fill="#000" stroke="#000" stroke-width="0.18" textLength="24.5" lengthAdjust="spacingAndGlyphs">87765</text>
<text x="9.5" y="479" font-size="9.8" fill="#000" stroke="#000" stroke-width="0.18" textLength="112" lengthAdjust="spacingAndGlyphs">Sto(5,3,3) 62.1698 46.1917</text>
<text x="4.5" y="557.3" font-size="9.8" fill="#000" stroke="#000" stroke-width="0.18" textLength="50.5" lengthAdjust="spacingAndGlyphs">15 Oct 2025</text>
<text x="68.5" y="557.3" font-size="9.8" fill="#000" stroke="#000" stroke-width="0.18" textLength="53.8" lengthAdjust="spacingAndGlyphs">18 Oct 04:00</text>
<text x="132.5" y="557.3" font-size="9.8" fill="#000" stroke="#000" stroke-width="0.18" textLength="53.8" lengthAdjust="spacingAndGlyphs">20 Oct 20:00</text>
<text x="196.5" y="557.3" font-size="9.8" fill="#000" stroke="#000" stroke-width="0.18" textLength="53.8" lengthAdjust="spacingAndGlyphs">23 Oct 12:00</text>
<text x="260.5" y="557.3" font-size="9.8" fill="#000" stroke="#000" stroke-width="0.18" textLength="53.8" lengthAdjust="spacingAndGlyphs">26 Oct 12:00</text>
<text x="324.5" y="557.3" font-size="9.8" fill="#000" stroke="#000" stroke-width="0.18" textLength="53.8" lengthAdjust="spacingAndGlyphs">29 Oct 04:00</text>
<text x="388.5" y="557.3" font-size="9.8" fill="#000" stroke="#000" stroke-width="0.18" textLength="53.8" lengthAdjust="spacingAndGlyphs">31 Oct 20:00</text>
<text x="452.5" y="557.3" font-size="9.8" fill="#000" stroke="#000" stroke-width="0.18" textLength="51" lengthAdjust="spacingAndGlyphs">3 Nov 12:00</text>
<text x="516.5" y="557.3" font-size="9.8" fill="#000" stroke="#000" stroke-width="0.18" textLength="51" lengthAdjust="spacingAndGlyphs">6 Nov 04:00</text>
<text x="580.5" y="557.3" font-size="9.8" fill="#000" stroke="#000" stroke-width="0.18" textLength="51" lengthAdjust="spacingAndGlyphs">8 Nov 20:00</text>
<text x="644.5" y="557.3" font-size="9.8" fill="#000" stroke="#000" stroke-width="0.18" textLength="55.8" lengthAdjust="spacingAndGlyphs">11 Nov 12:00</text>
<text x="708.5" y="557.3" font-size="9.8" fill="#000" stroke="#000" stroke-width="0.18" textLength="55.8" lengthAdjust="spacingAndGlyphs">14 Nov 04:00</text>
<text x="772.5" y="557.3" font-size="9.8" fill="#000" stroke="#000" stroke-width="0.18" textLength="55.8" lengthAdjust="spacingAndGlyphs">16 Nov 20:00</text>
<text x="836.5" y="557.3" font-size="9.8" fill="#000" stroke="#000" stroke-width="0.18" textLength="55.8" lengthAdjust="spacingAndGlyphs">19 Nov 12:00</text>
<text x="900.5" y="557.3" font-size="9.8" fill="#000" stroke="#000" stroke-width="0.18" textLength="55.8" lengthAdjust="spacingAndGlyphs">22 Nov 04:00</text>
<text x="964.5" y="557.3" font-size="9.8" fill="#000" stroke="#000" stroke-width="0.18" textLength="55.8" lengthAdjust="spacingAndGlyphs">24 Nov 20:00</text>
<g shape-rendering="crispEdges" fill="#C0C0C0"><rect x="997" y="5" width="9" height="1"/><rect x="998" y="6" width="7" height="1"/><rect x="999" y="7" width="5" height="1"/><rect x="1000" y="8" width="3" height="1"/><rect x="1001" y="9" width="1" height="1"/></g>
</svg>
</body></html>
